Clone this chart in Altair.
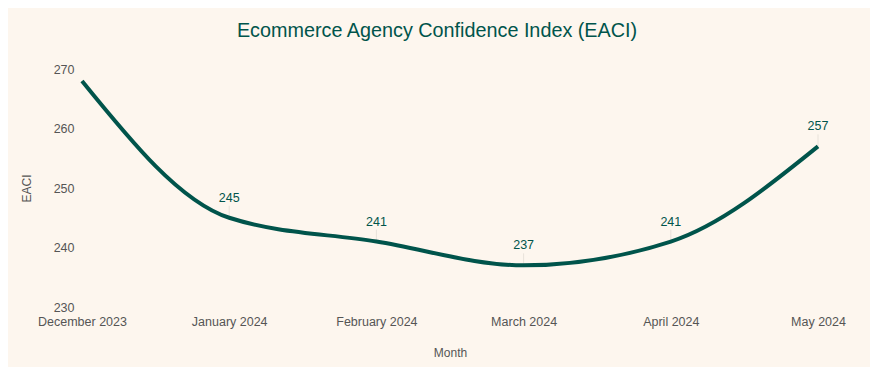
import altair as alt
import pandas as pd

months = ["December 2023", "January 2024", "February 2024", "March 2024", "April 2024", "May 2024"]
values = [268, 245, 241, 237, 241, 257]
show_label = [False, True, True, True, True, True]

df = pd.DataFrame({"Month": months, "EACI": values, "show": show_label})

LINE = "#00544b"
BG = "#fdf6ee"
FONT = "Liberation Sans"

x = alt.X("Month:N", sort=months, scale=alt.Scale(type="point", padding=0),
          axis=alt.Axis(title="Month", labelAngle=0, ticks=False, domain=False, grid=False,
                        labelPadding=8, titlePadding=20, labelColor="#555555", titleColor="#555555",
                        labelFontSize=12.5, titleFontSize=12, labelFont=FONT, titleFont=FONT,
                        titleFontWeight="normal"))
y = alt.Y("EACI:Q", scale=alt.Scale(domain=[230, 270], nice=False, zero=False),
          axis=alt.Axis(title="EACI", values=[230, 240, 250, 260, 270], ticks=False, domain=False,
                        grid=False, labelPadding=8, titlePadding=20, labelColor="#555555",
                        titleColor="#555555", labelFontSize=12.5, titleFontSize=12,
                        labelFont=FONT, titleFont=FONT, titleFontWeight="normal"))

base = alt.Chart(df)

line = base.mark_line(color=LINE, strokeWidth=4, interpolate="monotone").encode(x=x, y=y)

rules = base.transform_filter("datum.show").mark_rule(color="#e8e2da", strokeWidth=1, y2Offset=-12).encode(
    x=x, y=y, y2=alt.Y2("EACI:Q"))

labels = base.transform_filter("datum.show").mark_text(color=LINE, dy=-20, fontSize=12.5, font=FONT).encode(
    x=x, y=y, text=alt.Text("EACI:Q"))

chart = alt.layer(rules, line, labels).properties(
    width=736, height=238,
    title=alt.TitleParams("Ecommerce Agency Confidence Index (EACI)", fontSize=19.8, font=FONT,
                          fontWeight="normal", color=LINE, anchor="middle", offset=22, dx=-13),
    autosize=alt.AutoSizeParams(type="none"),
    padding={"left": 74, "top": 61, "right": 52, "bottom": 60},
    background=BG,
).configure_view(stroke=None)

chart.save("out.html", embed_options={"renderer": "svg", "actions": False})
